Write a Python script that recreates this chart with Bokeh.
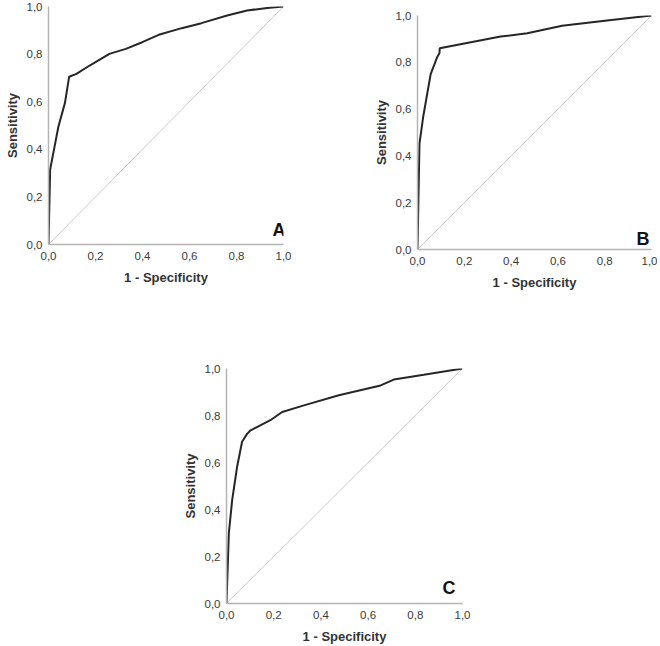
from bokeh.plotting import figure
from bokeh.layouts import row, column, Spacer
from bokeh.models import Range1d, FixedTicker, Label
from bokeh.embed import file_html
from bokeh.resources import INLINE

# ---- data ----
tick_values = [0.0, 0.2, 0.4, 0.6, 0.8, 1.0]
tick_labels = ["0,0", "0,2", "0,4", "0,6", "0,8", "1,0"]

a_fpr = [0.0, 0.007, 0.028, 0.042, 0.070, 0.088, 0.119, 0.175, 0.259, 0.329, 0.399,
         0.469, 0.567, 0.651, 0.760, 0.845, 0.930, 1.0]
a_tpr = [0.0, 0.315, 0.423, 0.495, 0.595, 0.705, 0.717, 0.752, 0.801, 0.822, 0.850,
         0.881, 0.909, 0.930, 0.962, 0.983, 0.994, 1.0]

b_fpr = [0.0, 0.0085, 0.024, 0.056, 0.084, 0.094, 0.095, 0.355, 0.469, 0.618, 0.810, 1.0]
b_tpr = [0.0, 0.452, 0.565, 0.748, 0.822, 0.840, 0.860, 0.910, 0.924, 0.956, 0.979, 1.0]

c_fpr = [0.0, 0.010, 0.024, 0.045, 0.066, 0.088, 0.102, 0.186, 0.236, 0.328, 0.476,
         0.653, 0.709, 0.836, 1.0]
c_tpr = [0.0, 0.300, 0.440, 0.582, 0.688, 0.723, 0.737, 0.780, 0.815, 0.843, 0.886,
         0.928, 0.953, 0.973, 1.0]

diag = [0.0, 1.0]
panel_letters = ["A", "B", "C"]

FONT = "Liberation Sans"


def make_panel(fpr, tpr, letter, w, h, bl, br, bt, bb, lx_off, ly_off):
    p = figure(width=w, height=h, output_backend="svg", toolbar_location=None,
               x_range=Range1d(0, 1), y_range=Range1d(0, 1),
               min_border_left=bl, min_border_right=br,
               min_border_top=bt, min_border_bottom=bb)
    p.frame_align = False
    p.outline_line_color = None
    p.grid.visible = False
    p.background_fill_color = "white"
    p.border_fill_color = "white"
    p.line(diag, diag, line_color="#cccccc", line_width=1)
    p.line(fpr, tpr, line_color="#262626", line_width=2)
    overrides = {v: t for v, t in zip(tick_values, tick_labels)}
    for ax in (p.xaxis[0], p.yaxis[0]):
        ax.ticker = FixedTicker(ticks=tick_values)
        ax.major_label_overrides = overrides
        ax.major_tick_line_color = None
        ax.major_tick_out = 0
        ax.major_tick_in = 0
        ax.minor_tick_line_color = None
        ax.minor_tick_out = 0
        ax.axis_line_color = "#b4b4b4"
        ax.axis_line_width = 1.5
        ax.major_label_text_font = FONT
        ax.major_label_text_font_size = "11.5px"
        ax.major_label_text_color = "#3a3a3a"
        ax.axis_label_text_font = FONT
        ax.axis_label_text_font_style = "bold"
        ax.axis_label_text_font_size = "13px"
        ax.axis_label_text_color = "#333333"
    p.xaxis.major_label_standoff = 7
    p.xaxis.axis_label_standoff = 7
    p.yaxis.major_label_standoff = 6
    p.yaxis.axis_label_standoff = 4
    p.xaxis.axis_label = "1 - Specificity"
    p.yaxis.axis_label = "Sensitivity"
    p.add_layout(Label(x=1, y=0, text=letter, text_align="right",
                       text_baseline="alphabetic", x_offset=lx_off, y_offset=ly_off,
                       text_font=FONT, text_font_style="bold",
                       text_font_size="18px", text_color="#111111"))
    return p


pA = make_panel(a_fpr, a_tpr, panel_letters[0], 293, 295, 48, 10, 6, 51, 2, 15)
pB = make_panel(b_fpr, b_tpr, panel_letters[1], 288, 295, 48, 6, 15, 46, -2, 11)
pC = make_panel(c_fpr, c_tpr, panel_letters[2], 294, 351, 48, 10, 73, 43, -7, 16)

layout = column(
    row(pA, Spacer(width=76, height=295), pB),
    row(Spacer(width=178, height=351), pC),
)

open("out.html", "w").write(file_html(layout, INLINE))
